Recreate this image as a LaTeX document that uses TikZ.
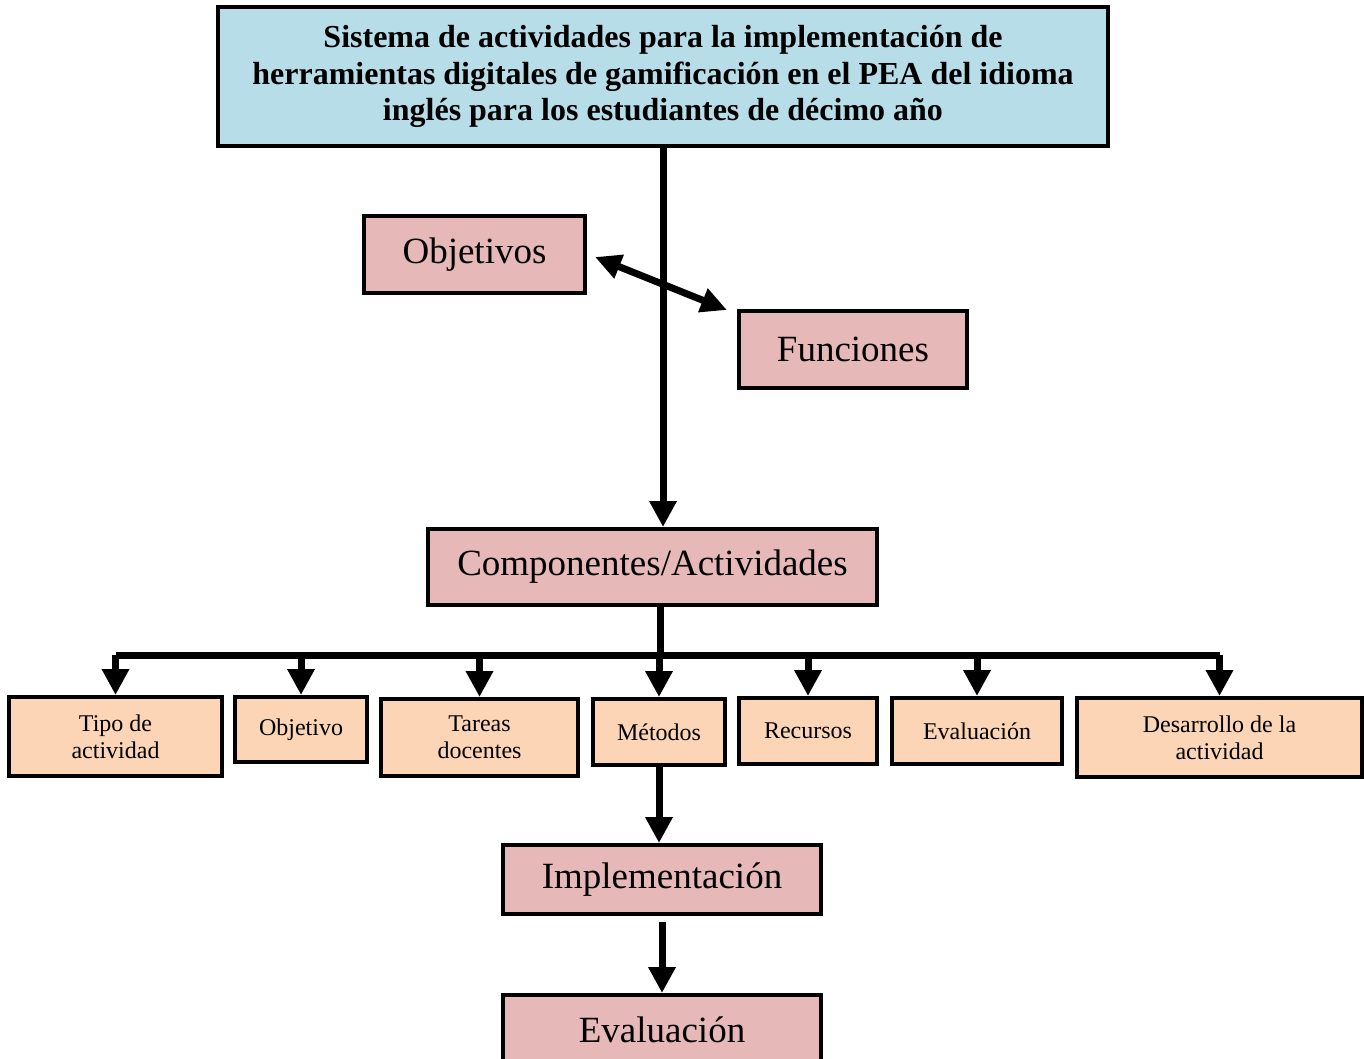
\documentclass[tikz,border=0pt]{standalone}
\usepackage{fontspec}
\setmainfont{Liberation Serif}
\usetikzlibrary{arrows.meta}
\definecolor{celeste}{HTML}{B7DEE8}
\definecolor{rosa}{HTML}{E6B9B8}
\definecolor{durazno}{HTML}{FBD5B5}
\begin{document}
\begin{tikzpicture}[x=0.5pt,y=-0.5pt,
  caja/.style={draw, line width=2pt, inner sep=0pt, align=center},
  grande/.style={caja, fill=rosa, font=\fontsize{18.5}{22}\selectfont},
  chica/.style={caja, fill=durazno, font=\fontsize{12}{13.5}\selectfont},
  flecha/.style={line width=3.5pt, -{Triangle[length=13pt,width=13pt]}},
  doble/.style={line width=3.5pt, {Triangle[length=13pt,width=12pt]}-{Triangle[length=13pt,width=12pt]}},
  linea/.style={line width=3.5pt, line join=round}]
\useasboundingbox (0,0) rectangle (1364,1059);
\node[caja, fill=celeste, minimum width=445pt, minimum height=69.5pt,
  font=\bfseries\fontsize{16}{18.25}\selectfont] (titulo) at (663,76.5)
  {Sistema de actividades para la implementación de\\
   herramientas digitales de gamificación en el PEA del idioma\\
   inglés para los estudiantes de décimo año};
\node[grande, minimum width=110.5pt, minimum height=38.5pt] (objetivos) at (474.5,254.5) {Objetivos};
\node[grande, minimum width=114pt, minimum height=38.5pt] (funciones) at (853,349.5) {Funciones};
\node[grande, minimum width=224.5pt, minimum height=38pt] (comp) at (652.5,567) {Componentes/Actividades};
\node[chica, minimum width=106.5pt, minimum height=39.5pt] (tipo) at (115.5,736.5) {Tipo de\\actividad};
\node[chica, minimum width=66pt, minimum height=32.5pt] (objetivo) at (301,729.5) {Objetivo};
\node[chica, minimum width=98.5pt, minimum height=38.5pt] (tareas) at (479.5,737.5) {Tareas\\docentes};
\node[chica, minimum width=66pt, minimum height=33pt] (metodos) at (659,732) {Métodos};
\node[chica, minimum width=69pt, minimum height=33pt] (recursos) at (808,731) {Recursos};
\node[chica, minimum width=85pt, minimum height=33pt] (evalc) at (977,731) {Evaluación};
\node[chica, minimum width=142.5pt, minimum height=39.5pt] (desarrollo) at (1219.5,737.5) {Desarrollo de la\\actividad};
\node[grande, minimum width=159pt, minimum height=34.5pt] (impl) at (662,879.5) {Implementación};
\node[grande, minimum width=159pt, minimum height=35pt] (evalf) at (662,1030) {Evaluación};
% conectores
\coordinate (o1) at (595,257);
\coordinate (o2) at (727,310);
\coordinate (barra) at (660,655);
\path[draw,flecha] (titulo.south) -- (titulo.south |- comp.north);
\path[draw,doble] (o1) -- (o2);
\path[draw,linea] (barra |- comp.south) -- (barra);
\path[draw,linea] (barra -| tipo.north) -- (barra -| desarrollo.north);
\foreach \n in {tipo,objetivo,tareas,metodos,recursos,evalc,desarrollo}
  \path[draw,flecha] (barra -| \n.north) -- (\n.north);
\path[draw,flecha] (metodos.south) -- (metodos.south |- impl.north);
\path[draw,flecha,shorten <=3pt] (impl.south) -- (evalf.north);
\end{tikzpicture}
\end{document}
